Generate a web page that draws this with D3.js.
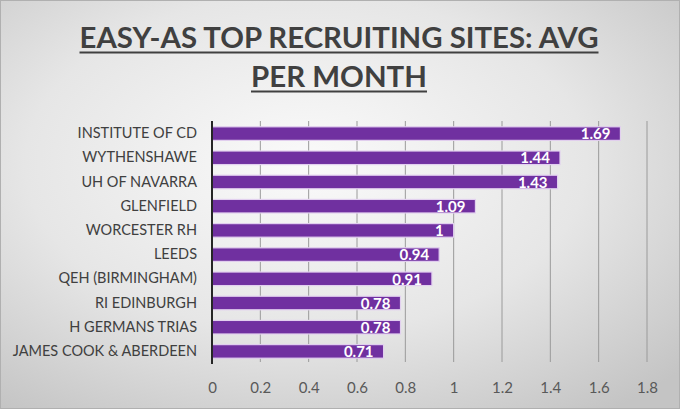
<!DOCTYPE html>
<meta charset="utf-8">
<script src="https://d3js.org/d3.v7.min.js"></script>
<style>
  body { margin: 0; overflow: hidden; }
  text { font-family: Lato, "Open Sans", sans-serif; }
</style>
<div id="chart"></div>
<script>
    // data
    var sites = ["INSTITUTE OF CD", "WYTHENSHAWE", "UH OF NAVARRA", "GLENFIELD", "WORCESTER RH",
        "LEEDS", "QEH (BIRMINGHAM)", "RI EDINBURGH", "H GERMANS TRIAS", "JAMES COOK & ABERDEEN"];
    var avgPerMonth = [1.69, 1.44, 1.43, 1.09, 1, 0.94, 0.91, 0.78, 0.78, 0.71];
    var xTicks = [0, 0.2, 0.4, 0.6, 0.8, 1, 1.2, 1.4, 1.6, 1.8];
    var titleLines = ["EASY-AS TOP RECRUITING SITES: AVG", "PER MONTH"];

    var width = 680, height = 409;
    var margin = { top: 121, right: 33, bottom: 45, left: 212 };

    var svg = d3.select("#chart").append("svg")
        .attr("width", width)
        .attr("height", height);

    // soft grey background
    var grad = svg.append("defs").append("radialGradient")
        .attr("id", "bg").attr("cx", "45%").attr("cy", "40%").attr("r", "75%");
    grad.append("stop").attr("offset", "0%").attr("stop-color", "#fafafa");
    grad.append("stop").attr("offset", "55%").attr("stop-color", "#e6e6e6");
    grad.append("stop").attr("offset", "100%").attr("stop-color", "#c4c4c4");
    svg.append("rect").attr("width", width).attr("height", height).attr("fill", "url(#bg)");
    svg.append("rect").attr("x", 0.5).attr("y", 0.5).attr("width", width - 1).attr("height", height - 1)
        .attr("fill", "none").attr("stroke", "#b0b0b0");

    var x = d3.scaleLinear().domain([0, 1.8]).range([margin.left, width - margin.right]);
    var y = d3.scaleBand().domain(sites).range([margin.top, height - margin.bottom]).paddingInner(0.44).paddingOuter(0.24);

    // title
    var title = svg.append("g").attr("fill", "#404040").attr("text-anchor", "middle")
        .style("font-weight", "bold").style("font-size", "28px");
    var titleY = [48, 87];
    var titleW = [519, 176];
    titleLines.forEach(function (t, i) {
        title.append("text")
            .attr("x", 339).attr("y", titleY[i])
            .attr("textLength", titleW[i]).attr("lengthAdjust", "spacingAndGlyphs")
            .text(t);
        title.append("line")
            .attr("x1", 339 - titleW[i] / 2).attr("x2", 339 + titleW[i] / 2)
            .attr("y1", titleY[i] + 4.5).attr("y2", titleY[i] + 4.5)
            .attr("stroke", "#404040").attr("stroke-width", 1.8);
    });

    // gridlines
    svg.append("g").selectAll("line").data(xTicks.slice(1)).join("line")
        .attr("x1", function (d) { return x(d); }).attr("x2", function (d) { return x(d); })
        .attr("y1", margin.top).attr("y2", height - margin.bottom - 2)
        .attr("stroke", "#9a9a9a").attr("stroke-width", 1);

    // bars
    svg.append("g").selectAll("rect").data(avgPerMonth).join("rect")
        .attr("x", x(0))
        .attr("y", function (d, i) { return y(sites[i]); })
        .attr("width", function (d) { return x(d) - x(0); })
        .attr("height", y.bandwidth())
        .attr("fill", "#7030a0")
        .attr("stroke", "#e2d0ef").attr("stroke-width", 1.2);

    // value labels
    svg.append("g").selectAll("text").data(avgPerMonth).join("text")
        .attr("x", function (d) { return x(d) - 10; })
        .attr("y", function (d, i) { return y(sites[i]) + y.bandwidth() / 2; })
        .attr("dy", "0.38em")
        .attr("text-anchor", "end")
        .attr("fill", "#ffffff")
        .style("font-weight", "bold").style("font-size", "15px")
        .text(function (d) { return d; });

    // category axis
    var yAxis = svg.append("g").attr("transform", "translate(" + margin.left + ",0)")
        .call(d3.axisLeft(y).tickSize(0).tickPadding(15));
    yAxis.select(".domain").remove();
    yAxis.selectAll("text").attr("fill", "#404040").style("font-size", "14.5px");
    svg.append("line")
        .attr("x1", x(0)).attr("x2", x(0))
        .attr("y1", margin.top).attr("y2", height - margin.bottom)
        .attr("stroke", "#262626").attr("stroke-width", 2);

    // value axis
    var xAxis = svg.append("g").attr("transform", "translate(0," + (height - margin.bottom) + ")")
        .call(d3.axisBottom(x).tickValues(xTicks).tickSize(0).tickPadding(18).tickFormat(d3.format("")));
    xAxis.select(".domain").remove();
    xAxis.selectAll("text").attr("fill", "#595959").style("font-size", "15px");
</script>
